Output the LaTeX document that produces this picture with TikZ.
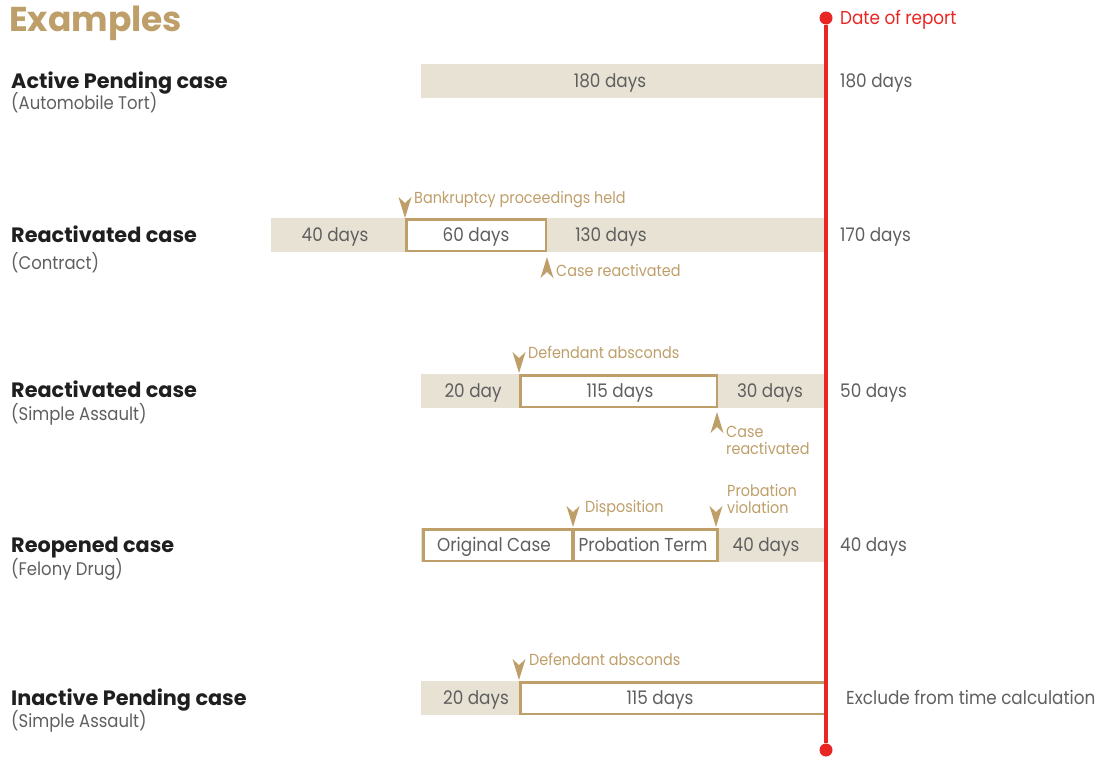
\documentclass[tikz,border=0pt]{standalone}
\usepackage{fontspec}
\setmainfont{Poppins}[FakeStretch=0.9, Numbers=Monospaced]
\newfontfamily\headfont{Poppins}[Numbers=Monospaced]
\usetikzlibrary{positioning}
\definecolor{gold}{RGB}{190,158,105}
\definecolor{beige}{RGB}{232,226,212}
\definecolor{txtgray}{RGB}{95,95,95}
\definecolor{repred}{RGB}{232,38,35}
\tikzstyle{seg}=[fill=beige, inner sep=0pt, minimum height=34pt]
\tikzstyle{box}=[draw=gold, line width=2.5pt, fill=white, inner sep=0pt, minimum height=31.5pt]
\tikzstyle{txt}=[text=txtgray, inner sep=0pt, text height=13pt, text depth=0pt, font=\fontsize{18.7}{22}\selectfont]
\tikzstyle{note}=[text=gold, inner sep=0pt, anchor=west, align=left, font=\fontsize{16}{17}\selectfont]
\tikzstyle{note1}=[note, text height=11.2pt, text depth=0pt]
\tikzstyle{head}=[text=black!88, inner sep=0pt, anchor=west, text height=14.5pt, text depth=0pt, font=\headfont\fontsize{20.8}{24}\selectfont\bfseries]
\tikzstyle{sub}=[text=txtgray, inner sep=0pt, anchor=west, text height=12.8pt, text depth=0pt, font=\fontsize{18.3}{20}\selectfont]
\tikzstyle{dot}=[circle, fill=repred, inner sep=0pt, minimum size=13pt]
\tikzset{
  dmark/.pic={\fill[gold] (0,0) -- (-6.5,-21) -- (0,-15) -- (6.5,-21) -- cycle;},
  umark/.pic={\fill[gold] (0,0) -- (-6.5,21) -- (0,15) -- (6.5,21) -- cycle;}
}

\begin{document}
\begin{tikzpicture}[x=1pt, y=-1pt]
  \useasboundingbox (0,0) rectangle (1102,758);
  \node[text=gold, inner sep=0pt, anchor=west, text height=24pt, text depth=0pt, font=\headfont\fontsize{34.5}{40}\selectfont\bfseries] (title) at (9,19) {Examples};

  % first row
  \node[head] (h1) at (11,81) {Active Pending case};
  \node[sub] (s1) at (11,103) {(Automobile Tort)};
  \node[seg, minimum width=405pt] (a1) at (623.5,81) {};
  \node[txt] (t1) at (610,81) {180 days};
  \node[txt, anchor=west] (r1) at (840,81) {180 days};

  % second row
  \node[head] (h2) at (11,235) {Reactivated case};
  \node[sub] (s2) at (11,263) {(Contract)};
  \node[seg, minimum width=555pt] (a2) at (548.5,235) {};
  \node[box, minimum width=139.5pt] (b2) at (476,235) {};
  \node[txt] (t2a) at (335,235) {40 days};
  \node[txt] (t2c) at (476,235) {60 days};
  \node[txt] (t2b) at (611,235) {130 days};
  \node[txt, anchor=west] (r2) at (840,235) {170 days};
  \pic at (405,218) {dmark};
  \node[note1] (n2a) at (414,198) {Bankruptcy proceedings held};
  \pic at (547,257) {umark};
  \node[note1] (n2b) at (556,271) {Case reactivated};

  % third row
  \node[head] (h3) at (11,390) {Reactivated case};
  \node[sub] (s3) at (11,414) {(Simple Assault)};
  \node[seg, minimum width=405pt] (a3) at (623.5,391) {};
  \node[box, minimum width=196.5pt] (b3) at (618.5,391) {};
  \node[txt] (t3a) at (473,391) {20 day};
  \node[txt] (t3b) at (620,391) {115 days};
  \node[txt] (t3c) at (770,391) {30 days};
  \node[txt, anchor=west] (r3) at (840,391) {50 days};
  \pic at (519,373) {dmark};
  \node[note1] (n3a) at (528,353) {Defendant absconds};
  \pic at (717,412) {umark};
  \node[note] (n3b) at (726,440) {Case\\reactivated};

  % fourth row
  \node[head] (h4) at (11,545) {Reopened case};
  \node[sub] (s4) at (11,569) {(Felony Drug)};
  \node[seg, minimum width=405pt] (a4) at (623.5,545) {};
  \node[box, minimum width=148.5pt] (b4a) at (497.5,545) {};
  \node[box, minimum width=143.5pt] (b4b) at (645.5,545) {};
  \node[txt] (t4a) at (494,545) {Original Case};
  \node[txt] (t4b) at (643,545) {Probation Term};
  \node[txt] (t4c) at (766,545) {40 days};
  \node[txt, anchor=west] (r4) at (840,545) {40 days};
  \pic at (573,527) {dmark};
  \node[note1] (n4a) at (585,507) {Disposition};
  \pic at (716,527) {dmark};
  \node[note] (n4b) at (727,499) {Probation\\violation};

  % fifth row
  \node[head] (h5) at (11,698) {Inactive Pending case};
  \node[sub] (s5) at (11,721) {(Simple Assault)};
  \node[seg, minimum width=405pt] (a5) at (623.5,698) {};
  \node[box, minimum width=304.5pt] (b5) at (672.5,698) {};
  \node[txt] (t5a) at (476,698) {20 days};
  \node[txt] (t5b) at (660,698) {115 days};
  \node[txt, anchor=west] (r5) at (846,698) {Exclude from time calculation};
  \pic at (519,680) {dmark};
  \node[note1] (n5a) at (529,660) {Defendant absconds};

  % date of report
  \node[dot] (top) at (826,18) {};
  \node[dot] (bot) at (826,750) {};
  \draw[repred, line width=3.5pt] (top) -- (bot);
  \node[text=repred, inner sep=0pt, anchor=west, text height=13pt, text depth=0pt, font=\fontsize{18.7}{20}\selectfont] (dr) at (840,18) {Date of report};
\end{tikzpicture}
\end{document}
